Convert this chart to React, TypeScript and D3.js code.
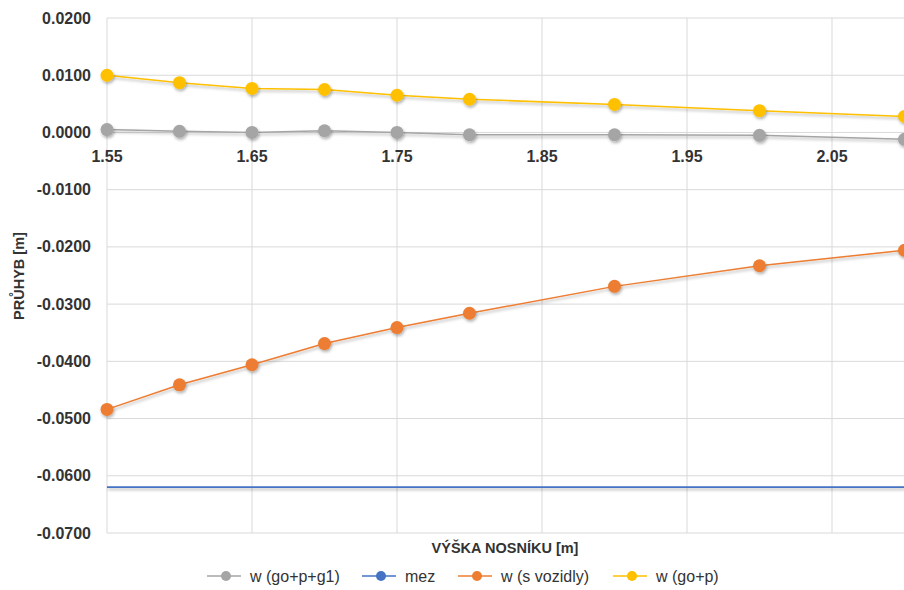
import React from "react";
import * as d3 from "d3";

const heights = [1.55, 1.6, 1.65, 1.7, 1.75, 1.8, 1.9, 2.0, 2.1];
const wGoPG1 = [0.0005, 0.0002, 0.0, 0.0003, 0.0, -0.0004, -0.0004, -0.0005, -0.0012];
const wSVozidly = [-0.0484, -0.0441, -0.0406, -0.0369, -0.0341, -0.0316, -0.0269, -0.0233, -0.0206];
const wGoP = [0.01, 0.0087, 0.0077, 0.0075, 0.0065, 0.0058, 0.0049, 0.0038, 0.0028];
const mez = [-0.062, -0.062, -0.062, -0.062, -0.062, -0.062, -0.062, -0.062, -0.062];

const xTicks = [1.55, 1.65, 1.75, 1.85, 1.95, 2.05];
const yTicks = [0.02, 0.01, 0.0, -0.01, -0.02, -0.03, -0.04, -0.05, -0.06, -0.07];

const seriesNames = ["w (go+p+g1)", "mez", "w (s vozidly)", "w (go+p)"];
const seriesColors = ["#A5A5A5", "#4472C4", "#ED7D31", "#FFC000"];

const W = 904;
const H = 590;

const loc = d3.formatLocale({ decimal: ".", thousands: ",", grouping: [3], currency: ["", ""], minus: "-" });

export default function App() {
  const x = d3.scaleLinear().domain([1.55, 2.1]).range([107, 904.5]);
  const y = d3.scaleLinear().domain([0.02, -0.07]).range([18, 533]);
  const line = d3
    .line<[number, number]>()
    .x((d) => x(d[0]))
    .y((d) => y(d[1]));

  const series = [
    { name: seriesNames[0], color: seriesColors[0], values: wGoPG1, markers: true },
    { name: seriesNames[1], color: seriesColors[1], values: mez, markers: false },
    { name: seriesNames[2], color: seriesColors[2], values: wSVozidly, markers: true },
    { name: seriesNames[3], color: seriesColors[3], values: wGoP, markers: true },
  ];

  const font = "'Liberation Sans', Arial, sans-serif";
  const legendX = [207, 362, 458, 613];
  const fy = loc.format(".4f");
  const fx = loc.format(".2f");

  return (
    <svg
      width={W}
      height={H}
      style={{ position: "absolute", left: 0, top: 0, background: "#fff" }}
      fontFamily={font}
    >
      <defs>
        <filter id="sh" filterUnits="userSpaceOnUse" x={0} y={0} width={W} height={H}>
          <feDropShadow dx="1" dy="2" stdDeviation="1.5" floodColor="#000" floodOpacity="0.3" />
        </filter>
        <clipPath id="clip">
          <rect x={0} y={0} width={W} height={H} />
        </clipPath>
      </defs>
      {/* gridlines */}
      {yTicks.map((t) => (
        <line key={"gy" + t} x1={107} x2={W} y1={y(t)} y2={y(t)} stroke="#D9D9D9" strokeWidth={1} />
      ))}
      {xTicks.map((t) => (
        <line key={"gx" + t} x1={x(t)} x2={x(t)} y1={y(0.02)} y2={y(-0.07)} stroke="#D9D9D9" strokeWidth={1} />
      ))}
      {/* y tick labels */}
      {yTicks.map((t) => (
        <text
          key={"ty" + t}
          x={91}
          y={y(t)}
          dy="0.35em"
          textAnchor="end"
          fontSize={16}
          fontWeight="bold"
          fill="#333"
        >
          {fy(t)}
        </text>
      ))}
      {/* x tick labels */}
      {xTicks.map((t) => (
        <text
          key={"tx" + t}
          x={x(t)}
          y={y(0) + 24}
          dy="0.35em"
          textAnchor="middle"
          fontSize={16}
          fontWeight="bold"
          fill="#333"
        >
          {fx(t)}
        </text>
      ))}
      {/* series */}
      <g clipPath="url(#clip)">
        {series.map((s) => {
          const pts: [number, number][] = heights.map((h, i) => [h, s.values[i]]);
          return (
            <g key={s.name}>
              <path d={line(pts) || ""} fill="none" stroke={s.color} strokeWidth={s.markers ? 1.5 : 1.8} filter="url(#sh)" />
              {s.markers &&
                pts.map((p, i) => (
                  <circle key={i} cx={x(p[0])} cy={y(p[1])} r={6.5} fill={s.color} filter="url(#sh)" />
                ))}
            </g>
          );
        })}
      </g>
      {/* axis titles */}
      <text x={505} y={548} dy="0.35em" textAnchor="middle" fontSize={14.5} fontWeight="bold" fill="#333">
        VÝŠKA NOSNÍKU [m]
      </text>
      <text
        transform={`translate(19,276) rotate(-90)`}
        dy="0.35em"
        textAnchor="middle"
        fontSize={14.5}
        fontWeight="bold"
        fill="#333"
      >
        PRŮHYB [m]
      </text>
      {/* legend */}
      {series.map((s, i) => (
        <g key={"lg" + i}>
          <line x1={legendX[i]} x2={legendX[i] + 34} y1={576} y2={576} stroke={s.color} strokeWidth={1.5} />
          <circle cx={legendX[i] + 19} cy={576} r={5} fill={s.color} />
          <text x={legendX[i] + 43} y={576} dy="0.35em" fontSize={16} fill="#333">
            {s.name}
          </text>
        </g>
      ))}
    </svg>
  );
}
